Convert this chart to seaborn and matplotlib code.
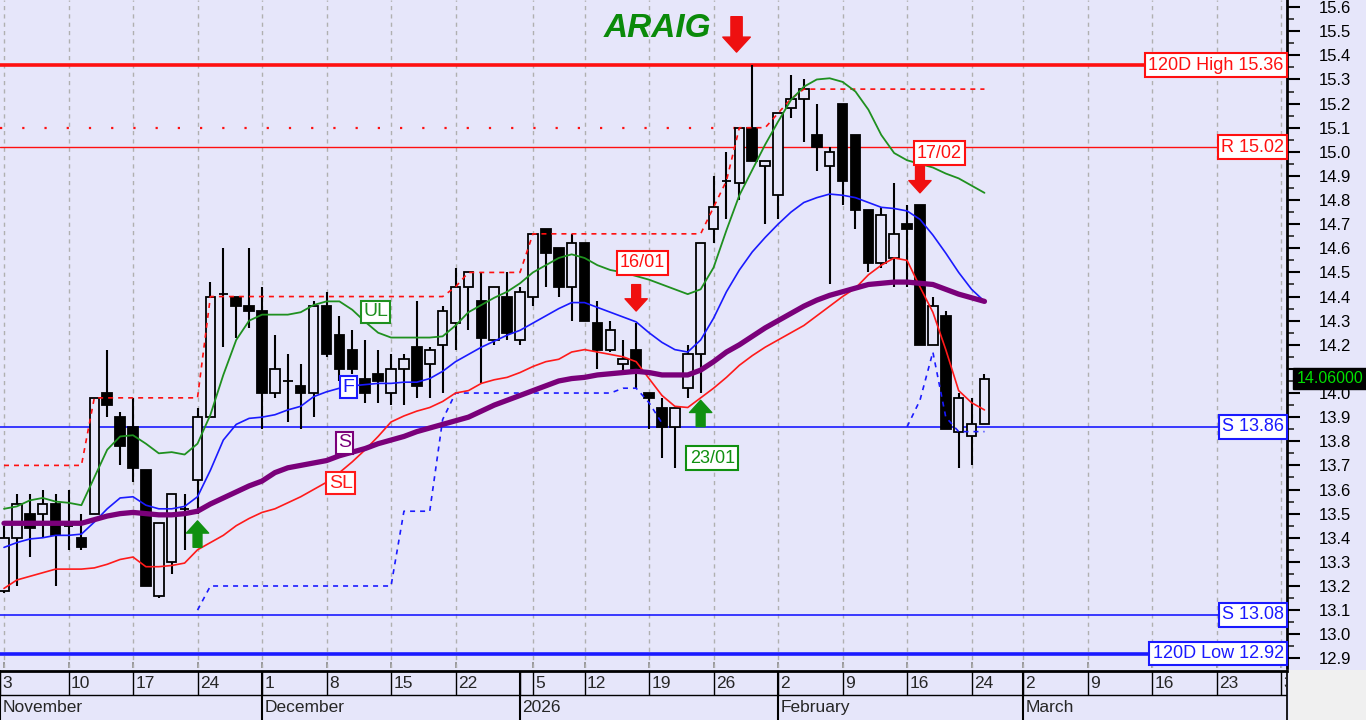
# -*- coding: utf-8 -*-
# ARAIG daily candles with trend lines and support/resistance levels

#%% Libraries

import numpy as np
import pandas as pd
import matplotlib
matplotlib.use("Agg")
import matplotlib.pyplot as plt
import matplotlib.transforms as mtransforms
from matplotlib.ticker import MultipleLocator, FuncFormatter
from matplotlib.patches import Rectangle
import seaborn as sns

#%% Data (one value per trading day, 3 Nov 2025 -> 24 Feb 2026)

opens = [13.18, 13.40, 13.50, 13.50, 13.54, 13.45, 13.40, 13.50, 14.00, 13.90,
         13.86, 13.68, 13.16, 13.30, 13.52, 13.64, 13.90, 14.41, 14.40, 14.36,
         14.34, 14.00, 14.05, 14.03, 14.00, 14.36, 14.24, 14.18, 14.06, 14.08,
         14.00, 14.10, 14.19, 14.12, 14.20, 14.29, 14.44, 14.38, 14.22, 14.40,
         14.22, 14.40, 14.68, 14.60, 14.44, 14.62, 14.29, 14.18, 14.12, 14.18,
         14.00, 13.94, 13.86, 14.02, 14.16, 14.68, 14.88, 14.87, 15.10, 14.94,
         14.82, 15.18, 15.22, 15.07, 14.94, 15.20, 15.07, 14.76, 14.54, 14.56,
         14.70, 14.78, 14.20, 14.32, 13.84, 13.82, 13.87]
highs = [13.45, 13.58, 13.58, 13.60, 13.58, 13.60, 13.50, 13.98, 14.18, 13.92,
         13.98, 13.68, 13.46, 13.58, 13.58, 13.94, 14.46, 14.60, 14.40, 14.60,
         14.44, 14.24, 14.16, 14.12, 14.38, 14.42, 14.32, 14.26, 14.22, 14.18,
         14.16, 14.16, 14.38, 14.19, 14.36, 14.52, 14.50, 14.50, 14.44, 14.50,
         14.44, 14.66, 14.68, 14.60, 14.66, 14.62, 14.38, 14.30, 14.22, 14.29,
         14.00, 13.98, 13.94, 14.20, 14.62, 14.90, 15.00, 15.10, 15.36, 14.96,
         15.16, 15.32, 15.30, 15.20, 15.02, 15.20, 15.07, 14.76, 14.77, 14.87,
         14.78, 14.78, 14.40, 14.34, 14.00, 13.98, 14.08]
lows = [13.17, 13.20, 13.32, 13.40, 13.20, 13.35, 13.35, 13.50, 13.90, 13.70,
        13.63, 13.20, 13.15, 13.25, 13.35, 13.50, 13.90, 14.19, 14.23, 14.27,
        13.85, 13.98, 13.88, 13.85, 13.90, 14.15, 14.05, 14.08, 13.96, 13.96,
        13.95, 13.95, 13.98, 13.98, 14.00, 14.18, 14.26, 14.04, 14.20, 14.22,
        14.20, 14.36, 14.44, 14.40, 14.30, 14.30, 14.10, 14.17, 14.09, 14.02,
        13.85, 13.73, 13.69, 13.98, 14.00, 14.62, 14.72, 14.80, 14.96, 14.70,
        14.72, 15.14, 15.04, 14.92, 14.45, 14.78, 14.68, 14.50, 14.52, 14.44,
        14.44, 14.20, 14.20, 13.85, 13.69, 13.70, 13.87]
closes = [13.40, 13.54, 13.44, 13.54, 13.41, 13.45, 13.36, 13.98, 13.95, 13.78,
          13.69, 13.20, 13.46, 13.58, 13.52, 13.90, 14.40, 14.41, 14.36, 14.34,
          14.00, 14.10, 14.05, 14.00, 14.36, 14.16, 14.10, 14.10, 14.00, 14.05,
          14.10, 14.14, 14.03, 14.18, 14.34, 14.44, 14.50, 14.23, 14.44, 14.25,
          14.42, 14.66, 14.58, 14.44, 14.62, 14.30, 14.18, 14.26, 14.14, 14.10,
          13.98, 13.86, 13.94, 14.16, 14.62, 14.77, 14.88, 15.10, 14.96, 14.96,
          15.16, 15.22, 15.26, 15.02, 15.00, 14.88, 14.76, 14.54, 14.74, 14.66,
          14.68, 14.20, 14.36, 13.85, 13.98, 13.87, 14.06]

# S (slow, purple)
slow_line = [13.46, 13.46, 13.46, 13.46, 13.46, 13.46, 13.46, 13.475, 13.49, 13.50,
             13.505, 13.50, 13.495, 13.495, 13.50, 13.51, 13.54, 13.565, 13.59, 13.615,
             13.635, 13.67, 13.69, 13.70, 13.71, 13.72, 13.74, 13.755, 13.77, 13.79,
             13.805, 13.82, 13.84, 13.855, 13.87, 13.885, 13.90, 13.925, 13.95, 13.97,
             13.99, 14.01, 14.03, 14.05, 14.06, 14.065, 14.075, 14.08, 14.085, 14.09,
             14.085, 14.075, 14.075, 14.075, 14.095, 14.13, 14.17, 14.20, 14.235, 14.27,
             14.30, 14.33, 14.36, 14.385, 14.405, 14.42, 14.435, 14.45, 14.455, 14.46,
             14.46, 14.455, 14.45, 14.43, 14.41, 14.395, 14.38]
# F (fast, blue)
fast_line = [13.36, 13.38, 13.395, 13.40, 13.41, 13.41, 13.415, 13.465, 13.52, 13.565,
             13.57, 13.535, 13.52, 13.52, 13.53, 13.57, 13.68, 13.805, 13.87, 13.895,
             13.90, 13.91, 13.93, 13.945, 13.985, 14.005, 14.02, 14.03, 14.035, 14.04,
             14.04, 14.045, 14.045, 14.06, 14.09, 14.13, 14.16, 14.19, 14.215, 14.24,
             14.26, 14.29, 14.32, 14.35, 14.375, 14.375, 14.355, 14.335, 14.315, 14.295,
             14.25, 14.21, 14.18, 14.17, 14.22, 14.31, 14.42, 14.51, 14.585, 14.645,
             14.70, 14.75, 14.79, 14.81, 14.825, 14.82, 14.81, 14.79, 14.77, 14.765,
             14.755, 14.72, 14.655, 14.58, 14.50, 14.43, 14.38]
# UL (upper, green)
upper_line = [13.52, 13.53, 13.555, 13.565, 13.55, 13.545, 13.535, 13.65, 13.765, 13.82,
              13.825, 13.79, 13.75, 13.755, 13.745, 13.79, 13.91, 14.075, 14.22, 14.30,
              14.325, 14.325, 14.325, 14.335, 14.365, 14.38, 14.38, 14.345, 14.295, 14.25,
              14.23, 14.23, 14.23, 14.23, 14.235, 14.28, 14.335, 14.365, 14.395, 14.42,
              14.455, 14.50, 14.53, 14.56, 14.575, 14.56, 14.53, 14.51, 14.50, 14.485,
              14.47, 14.45, 14.43, 14.41, 14.43, 14.52, 14.675, 14.82, 14.925, 15.03,
              15.125, 15.215, 15.27, 15.30, 15.305, 15.29, 15.25, 15.175, 15.07, 14.995,
              14.965, 14.95, 14.935, 14.91, 14.89, 14.86, 14.83]
# SL (lower, red)
lower_line = [13.19, 13.225, 13.24, 13.255, 13.27, 13.27, 13.27, 13.275, 13.29, 13.31,
              13.32, 13.28, 13.28, 13.285, 13.295, 13.35, 13.38, 13.41, 13.45, 13.48,
              13.505, 13.52, 13.545, 13.57, 13.60, 13.63, 13.67, 13.715, 13.765, 13.82,
              13.88, 13.905, 13.925, 13.94, 13.965, 14.00, 14.01, 14.04, 14.055, 14.065,
              14.085, 14.11, 14.13, 14.14, 14.17, 14.18, 14.17, 14.16, 14.15, 14.13,
              14.06, 13.99, 13.945, 13.94, 13.98, 14.02, 14.065, 14.115, 14.155, 14.19,
              14.22, 14.25, 14.28, 14.32, 14.36, 14.40, 14.435, 14.49, 14.53, 14.56,
              14.55, 14.44, 14.335, 14.18, 14.01, 13.96, 13.93]
# highest close so far (red dotted)
top_close = [13.70] * 7 + [13.98] * 9 + [14.40] * 19 + [14.44] + [14.50] * 5 + \
            [14.66] * 14 + [14.77, 14.88] + [15.10] * 3 + [15.16, 15.22] + [15.26] * 15
# trailing stop (blue dashed), nan where not drawn
nan = np.nan
trail_stop = [nan] * 15 + [13.10] + [13.20] * 15 + [13.51] * 3 + [13.89] + [14.00] * 13 + \
             [14.02, 14.02, 13.96, 13.875] + [nan] * 18 + \
             [13.86, 13.97, 14.17, 13.90, 13.84, 13.84, 13.84]

levels = [15.36, 15.02, 13.86, 13.08, 12.92]
level_labels = ['120D High 15.36', 'R 15.02', 'S 13.86', 'S 13.08', '120D Low 12.92']
level_colors = ['#ff1010', '#ff1010', '#1a1aff', '#1a1aff', '#1a1aff']
level_widths = [2.6, 1.0, 1.2, 1.2, 2.6]
old_resistance = 15.10
old_resistance_end = 57
last_price = 14.06

sell_days = [49, 71]
buy_days = [15, 54]
signal_texts = ['16/01', '23/01', '17/02']
signal_colors = ['#ff1010', '#109010', '#ff1010']
signal_pos = [(49.5, 14.54), (54.9, 13.73), (72.5, 14.995)]

day_pos = [-0.3, 5, 10, 15, 20, 25, 30, 35, 40, 41, 45, 50, 55, 60, 65, 70, 75, 79, 84, 89, 94, 99]
day_labels = ['3', '10', '17', '24', '1', '8', '15', '22', '', '5', '12', '19', '26',
              '2', '9', '16', '24', '2', '9', '16', '23', '3']
grid_pos = [0, 5, 10, 15, 20, 25, 30, 35, 41, 45, 50, 55, 60, 65, 70, 75, 79, 84, 89, 94, 99]
month_pos = [-0.3, 20, 40, 60, 79]
month_labels = ['November', 'December', '2026', 'February', 'March']

#%% Style

bg = '#e6e6fa'
sns.set_theme(style='white', rc={'axes.facecolor': bg, 'figure.facecolor': bg})
plt.rcParams['font.family'] = ['Liberation Sans', 'DejaVu Sans']

n = len(closes)
df = pd.DataFrame({'day': np.arange(n), 'open': opens, 'high': highs, 'low': lows,
                   'close': closes, 'S': slow_line, 'F': fast_line, 'UL': upper_line,
                   'SL': lower_line, 'top': top_close, 'stop': trail_stop})

fig = plt.figure(figsize=(13.66, 7.2), dpi=100)
W = 1287 / 1366
ax = fig.add_axes([0, 52 / 720, W, 668 / 720])
axd = fig.add_axes([0, 0, W, 49 / 720])
fig.patches.append(Rectangle((1289 / 1366, 0), 1, 50 / 720, transform=fig.transFigure,
                             fc='#f0f0f0', ec='none', zorder=-1))

xlim = (-0.31, 99.45)
ax.set_xlim(*xlim)
ax.set_ylim(12.86, 15.6295)

#%% Grid and levels

for g in grid_pos:
    ax.axvline(g, color='#b0b0b0', lw=1, linestyle=(0, (3, 3)), zorder=1)

blend = mtransforms.blended_transform_factory(ax.transAxes, ax.transData)
for lvl, lab, col, lw in zip(levels, level_labels, level_colors, level_widths):
    ax.axhline(lvl, color=col, lw=lw, zorder=2)
    ax.text(0.9975, lvl, lab, transform=blend, ha='right', va='center', fontsize=13,
            color=col, zorder=9,
            bbox=dict(boxstyle='square,pad=0.18', fc='white', ec=col, lw=1.5))

ax.hlines(old_resistance, xlim[0], old_resistance_end, color='#ff1010', lw=1.6,
          linestyle=(0, (1, 9)), zorder=2)

#%% Candles

up = df['close'] >= df['open']
ax.vlines(df['day'], df['low'], df['high'], color='black', lw=1.5, zorder=3)
ax.bar(df['day'], (df['close'] - df['open']).abs(), bottom=df[['open', 'close']].min(axis=1),
       width=0.74, color=np.where(up, bg, 'black'), edgecolor='black', linewidth=1.3, zorder=4)

#%% Indicator lines

sns.lineplot(data=df, x='day', y='top', ax=ax, color='#ff1010', lw=1.2,
             linestyle=(0, (3, 3)), estimator=None, legend=False, zorder=5)
stop_df = df.dropna(subset=['stop']).copy()
stop_df['seg'] = (stop_df['day'].diff() > 1).cumsum()
sns.lineplot(data=stop_df, x='day', y='stop', units='seg', ax=ax, color='#1a1aff', lw=1.2,
             linestyle=(0, (3, 3)), estimator=None, legend=False, zorder=5)
sns.lineplot(data=df, x='day', y='SL', ax=ax, color='#ff1a1a', lw=1.2, estimator=None,
             legend=False, zorder=6)
sns.lineplot(data=df, x='day', y='F', ax=ax, color='#1a1aff', lw=1.2, estimator=None,
             legend=False, zorder=6)
sns.lineplot(data=df, x='day', y='UL', ax=ax, color='#1f901f', lw=1.3, estimator=None,
             legend=False, zorder=6)
sns.lineplot(data=df, x='day', y='S', ax=ax, color='#7a007a', lw=3.8, estimator=None,
             legend=False, zorder=7)

line_tags = [('UL', 28.8, 14.336, '#1f901f'), ('F', 26.7, 14.025, '#1a1aff'),
             ('S', 26.4, 13.793, '#7a007a'), ('SL', 26.1, 13.627, '#ff1a1a')]
for txt, xx, yy, col in line_tags:
    ax.text(xx, yy, txt, ha='center', va='center', fontsize=14, color=col, zorder=9,
            bbox=dict(boxstyle='square,pad=0.12', fc='white', ec=col, lw=1.5))

#%% Signals

arrow = 'simple,head_length=0.55,head_width=1.0,tail_width=0.4'
for d in sell_days:
    ax.annotate('', xy=(d, highs[d] + 0.05), xytext=(0, 19), textcoords='offset points',
                arrowprops=dict(arrowstyle=arrow, mutation_scale=16, color='#f01010',
                                shrinkA=0, shrinkB=0), zorder=8)
for d in buy_days:
    ax.annotate('', xy=(d, lows[d] - 0.03), xytext=(0, -19), textcoords='offset points',
                arrowprops=dict(arrowstyle=arrow, mutation_scale=16, color='#109010',
                                shrinkA=0, shrinkB=0), zorder=8)
for txt, col, (xx, yy) in zip(signal_texts, signal_colors, signal_pos):
    ax.text(xx, yy, txt, ha='center', va='center', fontsize=13, color=col, zorder=9,
            bbox=dict(boxstyle='square,pad=0.18', fc='white', ec=col, lw=1.5))

ax.text(0.511, 0.957, 'ARAIG', transform=ax.transAxes, ha='center', va='center',
        fontsize=24, fontweight='bold', fontstyle='italic', color='#0a8a0a', zorder=9)
ax.annotate('', xy=(0.5723, 0.922), xycoords='axes fraction', xytext=(0.5723, 0.975),
            arrowprops=dict(arrowstyle='simple,head_length=0.6,head_width=1.1,tail_width=0.45',
                            mutation_scale=18, color='#ee1010', shrinkA=0, shrinkB=0))

ax.text(1.0075, last_price, '%.5f' % last_price, transform=blend, ha='left', va='center',
        fontsize=11.5, color='#00e000', clip_on=False, zorder=10,
        bbox=dict(boxstyle='square,pad=0.2', fc='black', ec='black'))

#%% Axes

def price_fmt(v, pos):
    # the last-price box hides the tick label next to it
    if abs(v - last_price) < 0.06:
        return ''
    return '%.1f' % v

for s in ['left', 'top', 'bottom']:
    ax.spines[s].set_visible(False)
ax.spines['right'].set_color('black')
ax.spines['right'].set_linewidth(2)
ax.yaxis.tick_right()
ax.yaxis.set_major_locator(MultipleLocator(0.1))
ax.yaxis.set_minor_locator(MultipleLocator(0.05))
ax.yaxis.set_major_formatter(FuncFormatter(price_fmt))
ax.tick_params(axis='y', which='major', right=True, length=9, width=1.5, pad=14,
               labelsize=12, colors='black', direction='out')
ax.tick_params(axis='y', which='minor', right=True, length=5, width=1.2, direction='out')
ax.set_xticks(grid_pos)
ax.tick_params(axis='x', bottom=True, direction='in', length=4, color='#909090',
               labelbottom=False)
ax.set_xlabel('')
ax.set_ylabel('')

# date band
axd.set_xlim(*xlim)
axd.set_ylim(0, 2)
axd.set_facecolor(bg)
axd.set_xticks([])
axd.set_yticks([])
axd.spines['bottom'].set_visible(False)
axd.spines['top'].set_linewidth(2)
for s in ['top', 'left', 'right']:
    axd.spines[s].set_color('black')
axd.axhline(1.02, color='black', lw=1)
axd.vlines(day_pos, 1.02, 2, color='black', lw=1)
axd.vlines(month_pos, 0, 2, color='black', lw=1.5)
for p, lab in zip(day_pos, day_labels):
    axd.text(p + 0.18, 1.5, lab, ha='left', va='center', fontsize=12.5, clip_on=True)
for p, lab in zip(month_pos, month_labels):
    axd.text(p + 0.18, 0.5, lab, ha='left', va='center', fontsize=12.5, clip_on=True)

fig.savefig('out.png', dpi=100, facecolor=bg)
